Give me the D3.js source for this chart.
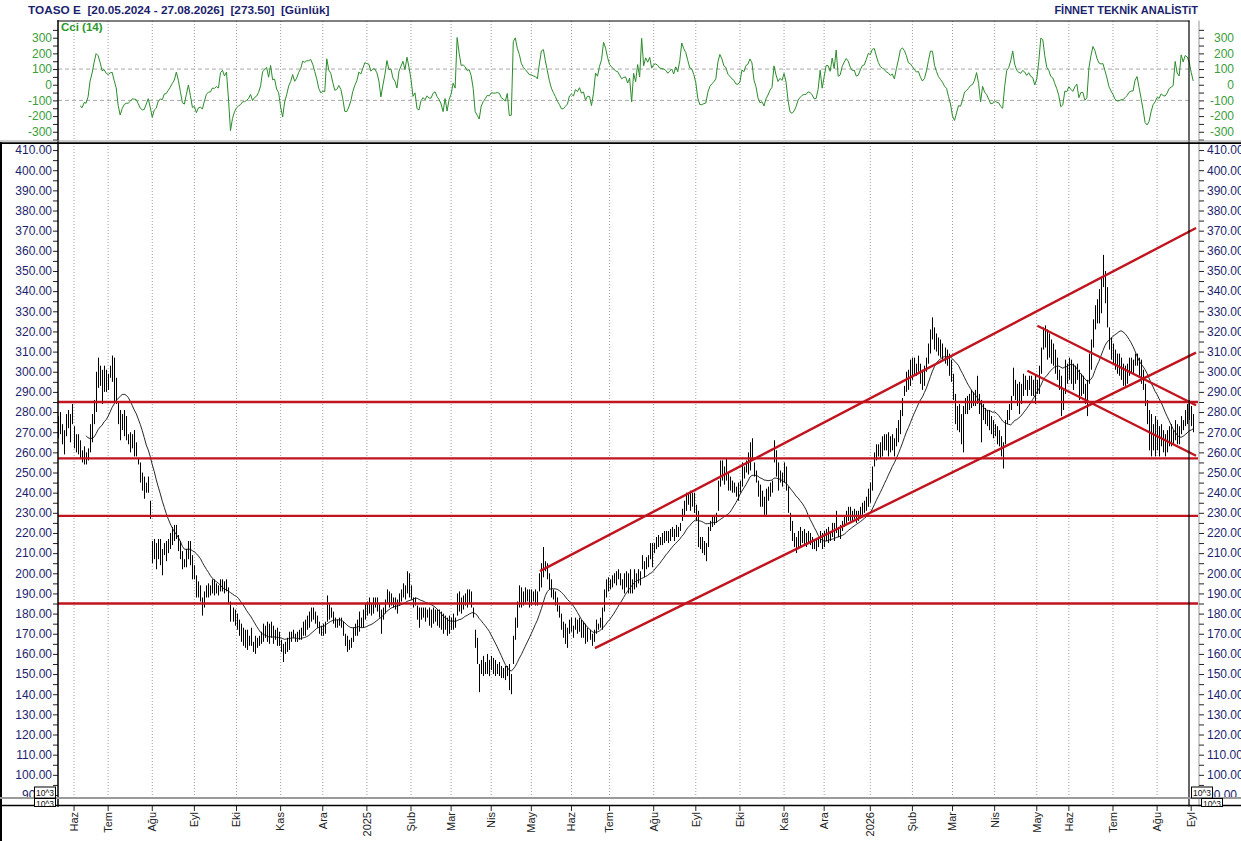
<!DOCTYPE html>
<html>
<head>
<meta charset="utf-8">
<title>TOASO E - Günlük</title>
<style>
    body { margin: 0; background-color: white; }
    svg { display: block; font-family: "Liberation Sans", Arial, sans-serif; }
    .pre { white-space: pre; }
</style>
<script src="https://d3js.org/d3.v7.min.js"></script>
</head>
<body>
<script>
// daily bars 20.05.2024 - 27.08.2026
let highs = [
    283,281,278,280,274,271,279,281,279,284, 273,269,269,266,261,263,260,262,274,279,
    286,300,307,303,301,303,301,299,303,308, 307,297,285,281,279,281,278,269,270,269,
    271,265,257,255,250,248,245,248,236,216, 217,215,217,217,212,215,216,217,220,223,
    224,224,219,216,211,207,212,216,216,209, 204,199,196,194,188,191,194,195,194,197,
    197,195,194,197,197,196,197,193,186,183, 182,180,177,175,173,172,172,169,173,166,
    169,168,169,171,175,174,176,175,176,174, 172,173,171,167,165,166,168,171,171,172,
    170,171,172,173,176,177,179,181,183,183, 181,179,176,174,175,176,189,185,183,181,
    178,177,178,178,176,170,169,167,168,173, 175,177,181,178,182,185,186,188,185,188,
    188,188,185,182,183,187,192,191,190,188, 188,187,190,192,195,194,201,200,194,188,
    188,184,183,183,183,183,182,183,182,183, 182,182,182,181,180,179,178,179,178,180,
    178,190,191,188,189,190,192,192,191,183, 172,168,155,157,159,156,160,157,159,158,
    157,155,156,154,153,154,154,155,150,169, 178,186,194,193,191,193,192,192,192,191,
    192,191,200,205,213,206,205,200,197,192, 191,188,184,180,176,175,173,177,178,174,
    178,177,178,177,176,175,173,172,170,172, 177,175,178,183,192,197,198,197,199,200,
    201,202,200,197,200,201,200,202,197,202, 200,202,201,209,206,208,209,215,215,215,
    218,219,218,220,221,221,221,222,223,222, 224,223,225,232,236,240,240,241,240,240,
    234,231,218,218,216,215,223,226,228,229, 230,246,256,256,253,257,250,248,246,245,
    243,245,246,255,253,256,260,265,267,255, 251,246,244,241,238,242,243,245,246,266,
    261,255,251,250,255,253,243,230,226,220, 218,221,223,221,222,220,221,220,218,216,
    217,218,221,220,221,222,223,221,225,225, 231,223,224,226,228,231,233,233,231,232,
    231,231,233,235,236,238,242,245,253,260, 264,264,265,268,269,269,270,268,269,267,
    272,276,281,287,293,300,301,306,307,307, 304,308,304,301,303,307,314,321,327,322,
    319,317,316,314,312,311,309,306,299,289, 283,284,279,283,287,288,289,291,290,291,
    298,289,286,284,282,281,281,278,276,274, 273,271,268,265,276,281,284,288,302,296,
    294,295,294,299,298,296,298,298,296,298, 296,303,312,322,323,321,319,316,314,311,
    307,301,298,291,306,304,307,306,304,303, 304,301,299,298,294,296,309,316,326,333,
    336,341,347,358,350,342,322,317,314,311, 309,309,307,304,303,304,307,307,306,309,
    309,307,306,301,294,286,281,279,274,278, 276,273,274,271,269,271,273,274,271,276,
    274,273,278,276,281,284,286,283,279
]
let lows = [
    272,270,267,269,264,259,268,272,265,274, 262,260,259,257,255,254,254,256,260,265,
    274,280,292,293,284,290,290,291,297,295, 285,284,274,266,271,268,266,264,260,262,
    258,258,254,245,241,237,240,240,227,205, 207,202,207,204,199,209,206,210,212,214,
    216,217,211,207,202,203,203,207,204,197, 197,188,188,186,179,183,188,188,189,190,
    189,190,189,191,191,190,191,185,176,176, 174,172,169,166,164,163,162,164,164,161,
    160,163,164,165,166,168,166,165,168,165, 167,164,164,161,156,160,161,162,166,168,
    166,166,167,167,169,169,172,173,176,177, 175,173,170,169,169,170,176,177,178,175,
    173,173,174,173,169,164,161,162,163,166, 169,169,171,173,173,177,179,180,179,180,
    183,181,178,170,177,180,185,183,184,183, 182,180,184,186,188,187,190,188,187,183,
    184,177,173,177,178,176,178,174,173,175, 176,174,173,172,170,172,169,170,172,172,
    173,179,181,180,182,184,183,185,183,178, 163,155,141,150,149,150,150,149,152,150,
    149,150,149,148,148,147,149,142,140,155, 167,173,183,183,184,185,186,183,184,186,
    184,184,191,193,198,201,197,192,188,187, 184,181,178,172,168,165,163,170,171,168,
    172,170,171,168,168,165,166,167,164,166, 170,172,173,172,181,188,191,192,193,195,
    194,197,194,192,190,193,190,190,190,192, 193,195,194,202,198,202,203,207,203,210,
    212,213,214,214,215,216,215,216,218,216, 218,218,221,226,228,231,234,231,233,230,
    226,213,212,210,209,206,213,221,223,224, 225,231,243,246,244,246,241,241,240,240,
    238,236,240,243,247,250,249,251,256,248, 245,238,233,233,229,229,236,238,240,255,
    248,241,245,243,245,241,230,221,216,213, 210,212,213,215,214,213,215,214,212,212,
    211,213,215,212,213,216,215,216,218,216, 220,218,217,221,223,225,226,226,226,227,
    225,226,228,229,230,231,233,235,241,253, 256,258,257,258,261,261,258,260,261,258,
    263,265,269,278,288,290,291,293,296,298, 298,300,294,291,293,300,304,309,316,311,
    310,308,307,306,304,303,298,295,286,274, 271,270,264,260,279,279,281,282,283,283,
    284,279,265,276,274,273,271,269,267,268, 264,263,258,252,264,274,276,281,288,286,
    283,279,284,288,291,288,291,288,288,284, 289,289,299,311,312,306,307,304,303,299,
    296,291,278,281,289,294,296,294,291,294, 296,286,288,289,284,278,294,301,312,321,
    324,324,329,342,334,322,311,306,304,301, 299,298,296,293,293,294,298,299,299,303,
    303,298,294,291,283,274,261,258,261,258, 261,258,263,260,258,260,263,263,264,266,
    264,264,269,271,273,274,276,273,270
]
let closes = [
    278,274,276,272,268,266,276,275,270,278, 266,263,266,260,257,259,256,260,270,276,
    284,296,300,298,290,300,294,296,300,304, 288,286,278,272,276,272,268,266,264,264,
    260,259,255,248,244,240,242,246,230,210, 214,206,212,210,204,212,210,215,218,220,
    218,220,214,210,205,205,210,214,206,200, 199,190,192,188,182,188,192,193,191,194,
    192,193,191,195,194,193,194,187,178,180, 176,174,171,168,170,166,165,167,170,163,
    166,165,167,169,173,171,172,168,173,169, 170,166,165,163,159,164,166,169,168,170,
    168,169,170,172,174,176,177,179,181,180, 178,175,172,171,173,172,185,180,180,177,
    175,176,177,174,171,166,163,164,166,171, 173,175,178,176,180,183,183,185,182,186,
    186,184,180,174,181,185,189,186,188,185, 184,182,188,190,193,190,198,192,189,185,
    186,179,176,180,181,178,180,176,175,178, 179,176,175,174,172,176,171,174,175,178,
    176,188,186,184,187,188,186,190,185,179, 165,158,148,153,152,154,156,152,155,153,
    152,153,151,150,151,149,152,146,148,166, 176,184,190,186,188,190,189,186,190,188,
    190,186,198,200,202,204,199,194,190,189, 186,183,180,174,170,168,166,174,173,171,
    176,172,175,170,171,167,170,169,166,170, 175,173,176,181,190,194,195,194,197,198,
    199,199,196,194,198,196,194,198,193,199, 197,200,198,207,201,206,207,213,208,213,
    216,217,216,218,219,219,217,220,221,219, 222,220,223,230,232,238,237,234,238,233,
    228,216,214,212,211,210,221,224,226,226, 228,244,250,248,246,250,244,244,242,242,
    240,243,245,252,250,254,256,262,258,250, 247,240,236,238,232,240,238,243,245,262,
    252,246,248,246,252,244,232,224,219,215, 212,218,216,218,216,215,218,216,214,213,
    215,216,218,215,218,219,220,219,222,220, 228,220,222,224,226,229,230,228,229,230,
    228,229,231,233,234,236,240,243,250,258, 261,260,262,265,266,264,268,263,267,262,
    270,274,279,285,291,297,295,302,304,301, 302,305,297,294,300,305,311,318,320,317,
    315,312,310,309,307,306,301,298,289,278, 276,280,268,280,284,285,286,288,286,289,
    290,282,268,282,278,276,274,272,270,271, 268,266,262,262,274,279,282,286,298,290,
    288,292,290,296,294,292,296,292,294,290, 294,300,310,320,316,312,314,308,310,304,
    300,296,282,288,302,298,304,298,296,300, 298,290,294,292,288,292,306,312,322,330,
    332,336,344,348,340,326,316,312,310,306, 304,302,300,296,298,300,304,304,302,306,
    306,302,298,294,286,278,266,264,268,262, 270,262,270,264,262,266,270,268,268,272,
    270,270,276,274,278,282,280,276,273.5
]

// month ticks: label and index of the first bar of the month
let monthLabels = ["Haz","Tem","Ağu","Eyl","Eki","Kas","Ara","2025","Şub","Mar","Nis","May","Haz","Tem",
                   "Ağu","Eyl","Eki","Kas","Ara","2026","Şub","Mar","Nis","May","Haz","Tem","Ağu","Eyl"]
let monthStarts = [10,27,49,70,91,113,134,156,178,198,218,238,258,277,
                   299,320,342,364,384,407,428,448,469,490,506,528,550,567]

// horizontal support / resistance levels
let levels = [285, 257, 228.5, 185]
// trend lines: [startBar, startPrice, endBar, endPrice]
let trendLines = [
    [242.3, 201.1, 569.4, 371.3],
    [269.7, 162.9, 569.4, 309.5],
    [490.3, 322.8, 569.4, 283.4],
    [485.3, 300.5, 569.4, 258.3]
]

let maPeriod = 17
let cciPeriod = 14

let width = 1241
let height = 841
let plotLeft = 58
let plotRight = 1189
let axisRightX = 1199
let navy = "#1c1f6e"
let red = "#c0141e"
let green = "#2b8c2b"

let svg = d3.select("body")
            .append("svg")
            .attr("width", width)
            .attr("height", height)

svg.append("rect").attr("width", width).attr("height", height).attr("fill", "white")

let x = d3.scaleLinear()
          .domain([0, closes.length - 1])
          .range([54, 1193.2])

let y = d3.scaleLinear()
          .domain([89, 413.5])
          .range([797, 143])

let yCci = d3.scaleLinear()
             .domain([-359, 406.6])
             .range([141, 21])

// indicators
let ma = closes.map((c, i) => i < maPeriod - 1 ? null : d3.mean(closes.slice(i - maPeriod + 1, i + 1)))
let tp = closes.map((c, i) => (highs[i] + lows[i] + c) / 3)
let cci = tp.map((t, i) => {
    if (i < cciPeriod - 1) return null
    let win = tp.slice(i - cciPeriod + 1, i + 1)
    let avg = d3.mean(win)
    let md = d3.mean(win, v => Math.abs(v - avg))
    return md === 0 ? 0 : (t - avg) / (0.015 * md)
})

// clip paths
let defs = svg.append("defs")
defs.append("clipPath").attr("id", "clipPrice")
    .append("rect").attr("x", plotLeft).attr("y", 143).attr("width", axisRightX - plotLeft - 1).attr("height", 797 - 143)
defs.append("clipPath").attr("id", "clipCci")
    .append("rect").attr("x", plotLeft).attr("y", 21).attr("width", axisRightX - plotLeft - 1).attr("height", 141 - 21)

// header texts
svg.append("text")
    .attr("class", "pre")
    .attr("x", 28).attr("y", 14)
    .attr("font-size", 11.8).attr("font-weight", "bold").attr("fill", navy)
    .text("TOASO E  [20.05.2024 - 27.08.2026]  [273.50]  [Günlük]")

svg.append("text")
    .attr("x", 1198).attr("y", 14)
    .attr("text-anchor", "end")
    .attr("font-size", 11).attr("font-weight", "bold").attr("fill", navy)
    .text("FİNNET TEKNİK ANALİSTiT")

// month gridlines
let gridMonths = monthStarts.filter(m => x(m) < plotRight)
let drawGrid = (g, top, bottom) => {
    g.selectAll("line")
        .data(gridMonths)
        .enter()
        .append("line")
        .attr("x1", d => x(d)).attr("x2", d => x(d))
        .attr("y1", top).attr("y2", bottom)
        .attr("stroke", "#a0a0a0")
        .attr("stroke-dasharray", "1,2")
}
drawGrid(svg.append("g"), 21, 141)
drawGrid(svg.append("g"), 143, 797)

// ---------- CCI panel ----------
let cciPanel = svg.append("g").attr("clip-path", "url(#clipCci)")

cciPanel.selectAll(".cciRef")
    .data([100, -100])
    .enter()
    .append("line")
    .attr("x1", plotLeft).attr("x2", plotRight)
    .attr("y1", d => yCci(d)).attr("y2", d => yCci(d))
    .attr("stroke", "#a8a8a8")
    .attr("stroke-dasharray", "4,3")

let cciLine = d3.line()
                .defined(d => d !== null)
                .x((d, i) => x(i))
                .y(d => yCci(d))

cciPanel.append("path")
    .datum(cci)
    .attr("d", cciLine)
    .attr("fill", "none")
    .attr("stroke", green)
    .attr("stroke-width", 1)

svg.append("text")
    .attr("x", 61).attr("y", 31)
    .attr("font-size", 11.5).attr("font-weight", "bold").attr("fill", "#2a9a2a")
    .text("Cci (14)")

let cciTicks = d3.range(-350, 351, 50)
let cciFmt = d => (d % 100 === 0 ? d : "")

let cciLeft = svg.append("g")
    .attr("transform", `translate(${plotLeft},0)`)
    .call(d3.axisLeft(yCci).tickValues(cciTicks).tickFormat(cciFmt).tickSize(5).tickSizeOuter(0))
let cciRight = svg.append("g")
    .attr("transform", `translate(${axisRightX},0)`)
    .call(d3.axisRight(yCci).tickValues(cciTicks).tickFormat(cciFmt).tickSize(5).tickSizeOuter(0))
cciRight.selectAll("text").attr("text-anchor", "end").attr("x", 35)
;[cciLeft, cciRight].forEach(g => {
    g.select(".domain").remove()
    g.selectAll("line").attr("stroke", "#222")
    g.selectAll("text").attr("fill", "#3a9e3a").attr("font-size", 12).attr("font-family", "Liberation Sans, Arial")
})
cciLeft.selectAll("text").attr("x", -6)

// ---------- price panel ----------
let pricePanel = svg.append("g").attr("clip-path", "url(#clipPrice)")

pricePanel.selectAll(".bar")
    .data(closes)
    .enter()
    .append("line")
    .attr("class", "bar")
    .attr("x1", (d, i) => Math.round(x(i)) + 0.5)
    .attr("x2", (d, i) => Math.round(x(i)) + 0.5)
    .attr("y1", (d, i) => y(highs[i]))
    .attr("y2", (d, i) => y(lows[i]))
    .attr("stroke", "black")
    .attr("stroke-width", 1)

let maLine = d3.line()
               .defined(d => d !== null)
               .x((d, i) => x(i))
               .y(d => y(d))

pricePanel.append("path")
    .datum(ma)
    .attr("d", maLine)
    .attr("fill", "none")
    .attr("stroke", "#111")
    .attr("stroke-width", 0.9)

pricePanel.selectAll(".level")
    .data(levels)
    .enter()
    .append("line")
    .attr("class", "level")
    .attr("x1", plotLeft).attr("x2", axisRightX - 1)
    .attr("y1", d => y(d)).attr("y2", d => y(d))
    .attr("stroke", red)
    .attr("stroke-width", 2.4)

pricePanel.selectAll(".trend")
    .data(trendLines)
    .enter()
    .append("line")
    .attr("class", "trend")
    .attr("x1", d => x(d[0])).attr("y1", d => y(d[1]))
    .attr("x2", d => x(d[2])).attr("y2", d => y(d[3]))
    .attr("stroke", red)
    .attr("stroke-width", 2.4)

let priceTicks = d3.range(90, 411, 5)
let priceFmt = d => (d % 10 === 0 ? d.toFixed(2) : "")

let priceLeft = svg.append("g")
    .attr("transform", `translate(${plotLeft},0)`)
    .call(d3.axisLeft(y).tickValues(priceTicks).tickFormat(priceFmt).tickSize(5).tickSizeOuter(0))
let priceRight = svg.append("g")
    .attr("transform", `translate(${axisRightX},0)`)
    .call(d3.axisRight(y).tickValues(priceTicks).tickFormat(priceFmt).tickSize(5).tickSizeOuter(0))
;[priceLeft, priceRight].forEach(g => {
    g.select(".domain").remove()
    g.selectAll("line").attr("stroke", "#222")
    g.selectAll("text").attr("fill", navy).attr("font-size", 12).attr("font-family", "Liberation Sans, Arial")
})
priceLeft.selectAll("text").attr("x", -6)
priceRight.selectAll("text").attr("x", 8)

// ---------- frames ----------
svg.append("rect").attr("x", 0).attr("y", 797).attr("width", width).attr("height", 9).attr("fill", "white")

let frame = svg.append("g").attr("stroke-linecap", "square")
frame.append("line").attr("x1", plotLeft).attr("x2", plotRight).attr("y1", 21).attr("y2", 21).attr("stroke", "black")
frame.append("line").attr("x1", plotLeft).attr("x2", plotLeft).attr("y1", 21).attr("y2", 806).attr("stroke", "black").attr("stroke-width", 1.5)
frame.append("line").attr("x1", plotRight).attr("x2", plotRight).attr("y1", 21).attr("y2", 806).attr("stroke", "black").attr("stroke-width", 1.2)
frame.append("line").attr("x1", axisRightX).attr("x2", axisRightX).attr("y1", 21).attr("y2", 806).attr("stroke", "#555").attr("stroke-width", 0.6)
frame.append("line").attr("x1", 0).attr("x2", width).attr("y1", 141).attr("y2", 141).attr("stroke", "#9a9a9a").attr("stroke-width", 1)
frame.append("line").attr("x1", 0).attr("x2", width).attr("y1", 143.2).attr("y2", 143.2).attr("stroke", "black").attr("stroke-width", 1.8)
frame.append("line").attr("x1", 1).attr("x2", 1).attr("y1", 143).attr("y2", height).attr("stroke", "black").attr("stroke-width", 2)
frame.append("line").attr("x1", 0).attr("x2", width).attr("y1", 798).attr("y2", 798).attr("stroke", "#9a9a9a").attr("stroke-width", 2)
frame.append("line").attr("x1", 0).attr("x2", width).attr("y1", 805.5).attr("y2", 805.5).attr("stroke", "black").attr("stroke-width", 1.5)

// "10^3" scale boxes
let boxes = [[34.5, 798.5, 21, 8], [34.5, 787, 21, 11], [1201.5, 798.5, 21, 8], [1191.5, 787, 21, 11]]
boxes.forEach(b => {
    svg.append("rect")
        .attr("x", b[0]).attr("y", b[1]).attr("width", b[2]).attr("height", b[3])
        .attr("fill", "white").attr("stroke", "black").attr("stroke-width", 1)
    svg.append("text")
        .attr("x", b[0] + b[2] / 2).attr("y", b[1] + 8.5)
        .attr("text-anchor", "middle")
        .attr("font-size", 8.5).attr("fill", "#111")
        .text("10^3")
})

// ---------- month axis ----------
let xAxis = svg.append("g")
xAxis.selectAll("line")
    .data(monthStarts)
    .enter()
    .append("line")
    .attr("x1", d => x(d)).attr("x2", d => x(d))
    .attr("y1", 806).attr("y2", 811)
    .attr("stroke", "#222")

xAxis.selectAll("text")
    .data(monthStarts)
    .enter()
    .append("text")
    .attr("transform", d => `translate(${x(d)},812) rotate(-90)`)
    .attr("text-anchor", "end")
    .attr("dy", "0.35em")
    .attr("font-size", 11)
    .attr("fill", "#222")
    .text((d, i) => monthLabels[i])
</script>
</body>
</html>
